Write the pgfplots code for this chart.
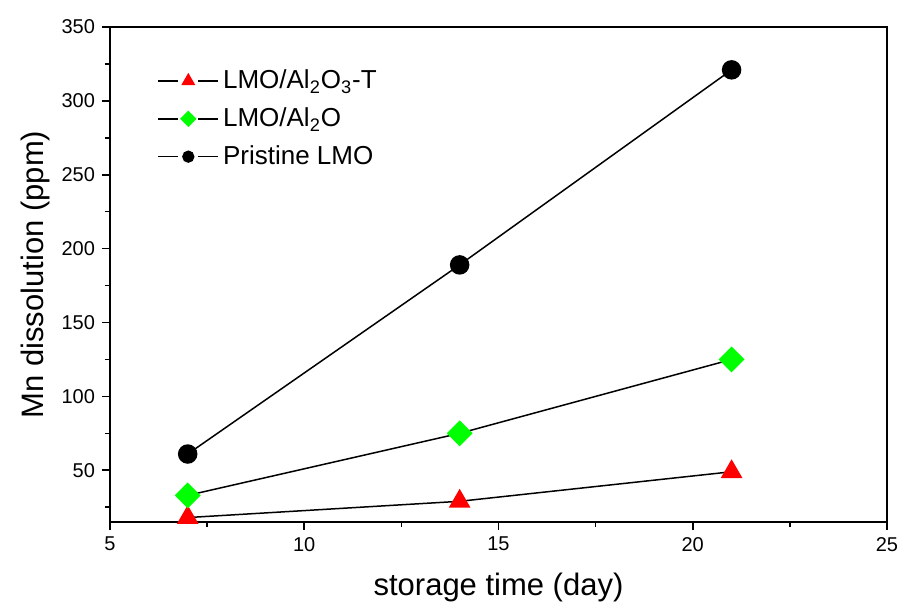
\documentclass[border=0pt]{standalone}
\usepackage{fontspec}
\setmainfont{Liberation Sans}
\usepackage{pgfplots}
\pgfplotsset{compat=1.18}

\begin{document}
\begin{tikzpicture}
% 1 px of the reference = 0.5pt
\useasboundingbox (-55pt,-41pt) rectangle (395.5pt,261pt);
\begin{axis}[
  scale only axis,
  width=388.5pt, height=247.5pt,
  xmin=5, xmax=25, ymin=15, ymax=350,
  xtick={5,10,...,25},
  ytick={50,100,...,350},
  minor xtick={7.5,12.5,17.5,22.5},
  minor ytick={25,75,...,325},
  xtick pos=left, ytick pos=left,
  tick align=outside,
  major tick length=4pt, minor tick length=2.5pt,
  axis line style={line width=1pt},
  every tick/.style={black,line width=0.8pt},
  /pgf/number format/assume math mode=true,
  tick label style={font=\fontsize{10}{12}\selectfont},
  xlabel={storage time (day)},
  ylabel={Mn dissolution (ppm)},
  label style={font=\fontsize{15.5}{18}\selectfont},
  xlabel style={at={(axis description cs:0.5,-0.132)},anchor=center},
  ylabel style={at={(axis description cs:-0.0965,0.5)},anchor=center},
  legend style={draw=none,fill=none,font=\fontsize{13}{15}\selectfont,
    at={(axis description cs:0.053,0.93)},anchor=north west,row sep=4pt},
  legend cell align=left,
  legend image code/.code={
    \draw[black,line width=0.75pt] (0pt,0pt) -- (10pt,0pt) (20pt,0pt) -- (30pt,0pt);
    \path[#1,every mark/.append style={scale=0.6}] plot[only marks] coordinates {(15pt,0pt)};
  },
]
\addplot[black,line width=0.75pt,mark=triangle*,mark size=5.5pt,
  mark options={draw=red,fill=red}] coordinates {
  (7,18) (14,29) (21,49)
};
\addplot[black,line width=0.75pt,mark=square*,mark size=4.2pt,
  mark options={draw=green,fill=green,rotate=45}] coordinates {
  (7,33) (14,75) (21,125)
};
\addplot[black,line width=0.75pt,mark=*,mark size=4.5pt,
  mark options={draw=black,fill=black}] coordinates {
  (7,61) (14,189) (21,321)
};
\legend{LMO/Al\textsubscript{2}O\textsubscript{3}-T,LMO/Al\textsubscript{2}O,Pristine LMO}
\end{axis}
\end{tikzpicture}
\end{document}
